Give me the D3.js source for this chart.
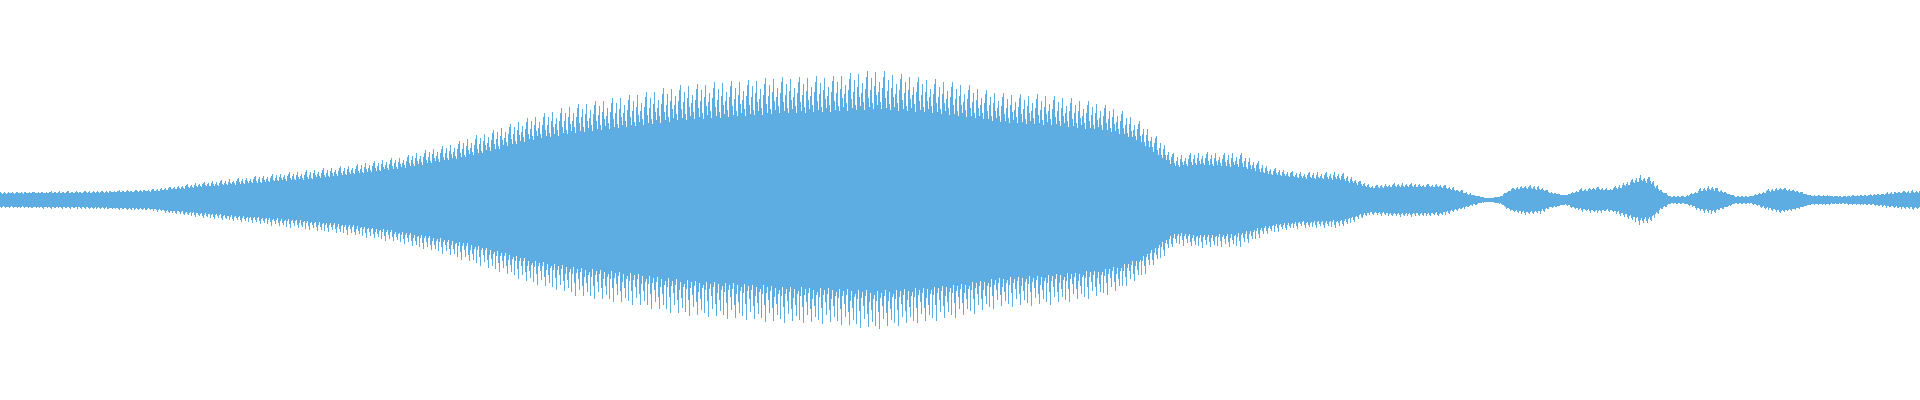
<!doctype html>
<html lang="en">
<head>
<meta charset="utf-8">
<title>Waveform</title>
<style>
  html, body { margin: 0; padding: 0; background: #fff; }
  svg { display: block; }
</style>
</head>
<body>
<svg width="1920" height="400"></svg>
<script src="https://d3js.org/d3.v7.min.js"></script>
<script>
// envelope key points (x in px along the track, amplitude in % of full scale)
var keyX = [0, 50, 100, 150, 200, 250, 300, 350, 400, 450, 480, 530, 580, 630, 680, 730, 780, 830, 875, 920,
  960, 1000, 1050, 1100, 1120, 1140, 1160, 1175, 1200, 1240, 1270, 1300, 1340, 1370, 1400, 1440, 1450, 1470,
  1480, 1490, 1500, 1510, 1525, 1540, 1550, 1565, 1580, 1595, 1610, 1625, 1640, 1650, 1660, 1670, 1685, 1700,
  1712, 1725, 1735, 1750, 1765, 1780, 1795, 1810, 1840, 1870, 1900, 1919];
// solid body of the wave
var bodyAmp = [3.2, 3.3, 3.6, 4.2, 6.4, 8.3, 10, 12.5, 15.8, 20, 23, 30, 34, 36.5, 40, 41.5, 43.3, 44.2, 45.5, 44,
  42, 39, 37.5, 35, 33, 29, 21.5, 16.5, 17.5, 16.5, 12.5, 10.8, 10, 5.8, 6.6, 6.2, 5, 2.5,
  1.3, 0.8, 1.6, 4.6, 5.8, 5, 3.3, 2.2, 4.1, 5, 4.6, 6.6, 9.1, 8.3, 4.1, 1.6, 1.6, 4.1,
  5, 3.3, 1.6, 1.6, 3.3, 5, 4.1, 2, 1.6, 2, 3.3, 3.6];
// tips of the tallest spikes
var peakAmp = [4, 4.3, 4.6, 5.3, 8.8, 11.6, 14.5, 17.5, 21.6, 28, 33, 41.5, 48.5, 52.5, 57.5, 59.5, 61.5, 62, 65, 61.5,
  58.5, 53.5, 52.5, 48.5, 45, 39, 30, 22.5, 24, 23.5, 16.5, 14, 14, 7.5, 8.5, 8, 7, 3.3,
  1.7, 1, 2, 5.8, 7.5, 7, 4.2, 2.5, 5.8, 6.6, 5.8, 9.1, 12.5, 11.6, 5.8, 2, 2, 5.8,
  7.5, 4, 2, 2, 5, 6.6, 5, 2.5, 2.2, 2.8, 4.6, 5];
// spike texture, share of (peak - body) reached by successive bars
var upperPattern = [1, 0.3, 0.05, 0.5, 0.8, 0.15, 0, 0.6, 0.95, 0.35, 0.1, 0.45, 0.7, 0.2, 0, 0.55, 0.85];
var lowerPattern = [0.1, 0.9, 0.25, 0, 0.55, 1, 0.2, 0.05, 0.4, 0.75, 0.15, 0, 0.6, 0.95, 0.3, 0.05, 0.5, 0.8, 0.2];

var svg = d3.select("svg"),
  width = +svg.attr("width"),
  height = +svg.attr("height");

var color = "#5dade2";

var body = d3.scaleLinear().domain(keyX).range(bodyAmp).clamp(true);
var peak = d3.scaleLinear().domain(keyX).range(peakAmp).clamp(true);

var x = d3.scaleLinear().domain([0, width]).range([0, width]);
var y = d3.scaleLinear().domain([-100, 100]).range([height, 0]);

var bars = d3.range(0, width);

svg.append("g")
  .attr("shape-rendering", "crispEdges")
  .selectAll("rect")
  .data(bars)
  .enter().append("rect")
  .attr("x", function (d) { return x(d); })
  .attr("width", function (d) { return x(d + 1) - x(d); })
  .attr("y", function (d) {
    var b = body(d), p = peak(d);
    return y(b + upperPattern[d % upperPattern.length] * (p - b));
  })
  .attr("height", function (d) {
    var b = body(d), p = peak(d);
    var top = b + upperPattern[d % upperPattern.length] * (p - b);
    var bot = b + lowerPattern[d % lowerPattern.length] * (p - b);
    return Math.max(1, y(-bot) - y(top));
  })
  .attr("fill", color);
</script>
</body>
</html>
